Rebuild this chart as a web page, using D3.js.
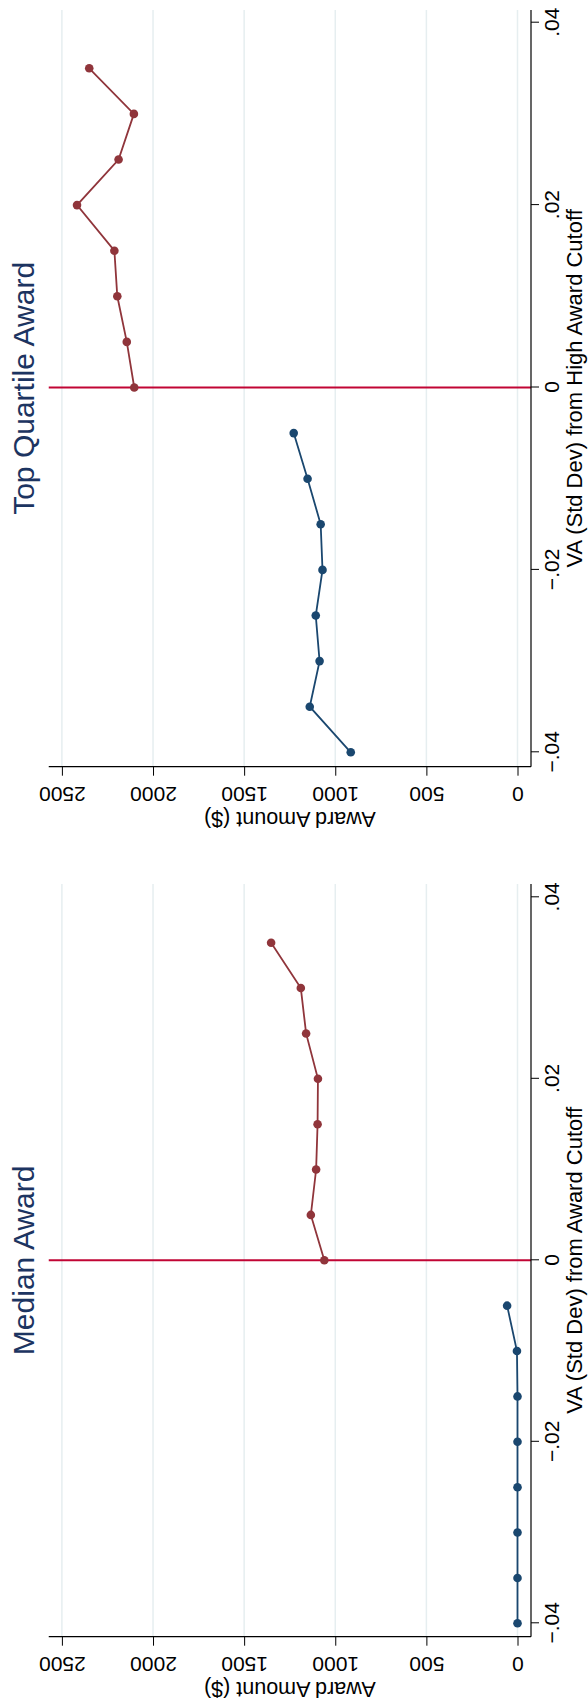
<!DOCTYPE html>
<html>
<head>
<meta charset="utf-8">
<script src="https://cdn.jsdelivr.net/npm/d3@7"></script>
<style>
    body { margin: 0; background: #fff; }
    text { font-family: "Liberation Sans", Arial, Helvetica, sans-serif; }
</style>
</head>
<body>
<svg id="chart" width="588" height="1707"></svg>
<script>
// data (x = VA distance from cutoff, y = award amount)
const vaBelow = [-0.04, -0.035, -0.03, -0.025, -0.02, -0.015, -0.01, -0.005];
const vaAbove = [0, 0.005, 0.01, 0.015, 0.02, 0.025, 0.03, 0.035];
const xTicks = [-0.04, -0.02, 0, 0.02, 0.04];
const yTicks = [0, 500, 1000, 1500, 2000, 2500];

const medianBelow = [0, 0, 0, 0, 0, 0, 3, 57];
const medianAbove = [1060, 1134, 1105, 1097, 1095, 1160, 1189, 1352];
const topBelow = [915, 1140, 1086, 1107, 1070, 1080, 1152, 1228];
const topAbove = [2103, 2144, 2196, 2212, 2417, 2189, 2105, 2350];

const panelTitles = ["Median Award", "Top Quartile Award"];
const xTitles = ["VA (Std Dev) from Award Cutoff", "VA (Std Dev) from High Award Cutoff"];
const yTitle = "Award Amount ($)";

const colors = { below: "#1a476f", above: "#90353b", cutoff: "#c10534", grid: "#e6eef0", title: "#1c3461" };

// The graph is drawn in its upright form and then turned a quarter turn
const W = 1707;
const svg = d3.select("#chart");
const root = svg.append("g").attr("transform", `translate(0,${W}) rotate(-90)`);

const plotTop = 48.75, plotBottom = 531;
const y = d3.scaleLinear().domain([0, 2500]).range([517.5, 61.9]);

const panels = [
    { title: panelTitles[0], xTitle: xTitles[0], below: medianBelow, above: medianAbove,
      left: 70.3, right: 823, tickRange: [83.7, 809.7] },
    { title: panelTitles[1], xTitle: xTitles[1], below: topBelow, above: topAbove,
      left: 940.3, right: 1697, tickRange: [954.7, 1684.3] }
];

panels.forEach(p => drawPanel(root.append("g"), p));

function fmt(d) {
    if (d === 0) return "0";
    return (d < 0 ? "\u2212" : "") + String(Math.abs(d)).replace(/^0/, "");
}

function drawPanel(g, p) {
    const x = d3.scaleLinear().domain([-0.04, 0.04]).range(p.tickRange);
    const mid = (p.left + p.right) / 2;

    // gridlines
    g.selectAll(".grid").data(yTicks).enter().append("line")
        .attr("x1", p.left).attr("x2", p.right)
        .attr("y1", d => y(d)).attr("y2", d => y(d))
        .attr("stroke", colors.grid).attr("stroke-width", 1.5);

    // cutoff line
    g.append("line")
        .attr("x1", x(0)).attr("x2", x(0))
        .attr("y1", plotTop).attr("y2", plotBottom)
        .attr("stroke", colors.cutoff).attr("stroke-width", 2);

    // x axis
    const xAxis = g.append("g")
        .attr("transform", `translate(0,${plotBottom})`)
        .call(d3.axisBottom(x).tickValues(xTicks).tickFormat(fmt).tickSize(8).tickSizeOuter(0));
    xAxis.select(".domain").remove();
    xAxis.selectAll("line").attr("stroke", "#000");
    xAxis.selectAll("text")
        .attr("y", 28).attr("dy", null)
        .style("font-size", "21px").attr("fill", "#000");

    // y axis
    const yAxis = g.append("g")
        .attr("transform", `translate(${p.left},0)`)
        .call(d3.axisLeft(y).tickValues(yTicks).tickFormat(d3.format("d")).tickSize(9).tickSizeOuter(0));
    yAxis.select(".domain").remove();
    yAxis.selectAll("line").attr("stroke", "#000");
    yAxis.selectAll("text")
        .attr("x", 0).attr("y", 0).attr("dy", null)
        .attr("text-anchor", "middle")
        .attr("transform", "translate(-20,0) rotate(-90)")
        .style("font-size", "21px").attr("fill", "#000");

    // axis lines
    g.append("line").attr("x1", p.left).attr("x2", p.right)
        .attr("y1", plotBottom).attr("y2", plotBottom)
        .attr("stroke", "#000").attr("stroke-width", 1.2);
    g.append("line").attr("x1", p.left).attr("x2", p.left)
        .attr("y1", plotTop).attr("y2", plotBottom)
        .attr("stroke", "#000").attr("stroke-width", 1.2);

    // titles
    g.append("text")
        .attr("x", mid).attr("y", 582)
        .attr("text-anchor", "middle")
        .style("font-size", "22px")
        .text(p.xTitle);

    g.append("text")
        .attr("transform", `translate(${p.left - 45},${(plotTop + plotBottom) / 2}) rotate(-90)`)
        .attr("text-anchor", "middle")
        .style("font-size", "21.5px")
        .text(yTitle);

    g.append("text")
        .attr("x", mid).attr("y", 34)
        .attr("text-anchor", "middle")
        .style("font-size", "30px")
        .attr("fill", colors.title)
        .text(p.title);

    // series
    const line = d3.line().x(d => x(d.va)).y(d => y(d.v));
    const series = [
        { color: colors.below, pts: vaBelow.map((va, i) => ({ va: va, v: p.below[i] })) },
        { color: colors.above, pts: vaAbove.map((va, i) => ({ va: va, v: p.above[i] })) }
    ];

    series.forEach(s => {
        g.append("path")
            .datum(s.pts)
            .attr("fill", "none")
            .attr("stroke", s.color)
            .attr("stroke-width", 1.8)
            .attr("d", line);

        g.selectAll(null).data(s.pts).enter().append("circle")
            .attr("cx", d => x(d.va))
            .attr("cy", d => y(d.v))
            .attr("r", 4.3)
            .attr("fill", s.color);
    });
}
</script>
</body>
</html>
